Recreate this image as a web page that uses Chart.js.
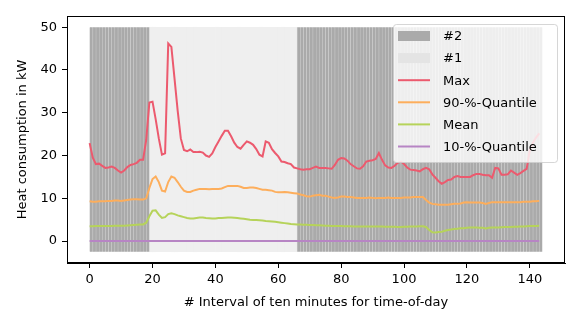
<!DOCTYPE html>
<html>
<head>
<meta charset="utf-8">
<script src="https://cdn.jsdelivr.net/npm/chart.js@4.4.1/dist/chart.umd.min.js"></script>
<style>
  html, body { margin: 0; padding: 0; background: #fff; }
  #wrap { width: 581px; height: 327px; }
</style>
</head>
<body>
<div id="wrap"><canvas id="chart"></canvas></div>
<script>
// Intervals 0..143, ten minutes each
const intervals = Array.from({ length: 144 }, (_, i) => i);

// Which cluster each interval belongs to
const cluster2Intervals = [...Array(19).keys()].concat(Array.from({ length: 78 }, (_, i) => 66 + i));
const cluster1Intervals = Array.from({ length: 47 }, (_, i) => 19 + i);
const bandBottom = -2.5;
const bandTop = 50;

const maxValues = [
  22.9, 19.5, 18.0, 18.1, 17.6, 17.1, 17.2, 17.4, 17.1, 16.5,
  16.0, 16.5, 17.3, 17.8, 18.0, 18.3, 19.0, 19.0, 23.7, 32.4,
  32.6, 28.5, 24.0, 20.2, 20.5, 46.2, 45.4, 38.0, 30.5, 24.0,
  21.3, 21.0, 21.4, 20.8, 20.8, 20.9, 20.7, 20.0, 19.7, 20.5,
  22.0, 23.3, 24.6, 25.8, 25.8, 24.5, 23.0, 22.0, 21.6, 22.5,
  23.3, 23.0, 22.5, 21.5, 20.2, 19.8, 23.3, 23.0, 21.5, 20.6,
  19.8, 18.6, 18.5, 18.2, 18.0, 17.2, 17.0, 16.8, 16.7, 16.8,
  16.8, 17.1, 17.4, 17.1, 17.1, 17.1, 17.0, 16.9, 17.8, 19.0,
  19.4, 19.3, 18.8, 18.0, 17.5, 17.0, 16.9, 17.5, 18.6, 18.8,
  18.9, 19.2, 20.6, 19.0, 17.7, 17.2, 17.1, 17.6, 18.3, 18.6,
  18.0, 17.2, 16.7, 16.6, 16.5, 16.3, 16.8, 17.1, 16.8, 15.6,
  14.8, 14.0, 13.4, 13.8, 14.3, 14.4, 15.0, 15.2, 15.0, 15.0,
  15.0, 15.0, 15.4, 15.7, 15.7, 15.5, 15.4, 15.4, 14.8, 17.1,
  17.0, 15.5, 15.5, 15.6, 16.5, 16.0, 15.5, 15.9, 16.4, 16.9,
  21.3, 23.0, 24.2, 25.2
];

const q90Values = [
  9.3, 9.2, 9.2, 9.3, 9.3, 9.3, 9.4, 9.4, 9.5, 9.5,
  9.4, 9.5, 9.6, 9.7, 9.8, 9.8, 9.7, 9.7, 10.0, 12.4,
  14.5, 15.1, 13.8, 11.8, 11.6, 13.8, 15.1, 14.8, 13.8, 12.7,
  11.8, 11.5, 11.5, 11.8, 12.0, 12.2, 12.2, 12.2, 12.1, 12.2,
  12.2, 12.2, 12.3, 12.6, 12.9, 12.9, 12.9, 12.9, 12.7, 12.4,
  12.4, 12.5, 12.5, 12.4, 12.2, 12.0, 12.0, 11.9, 11.8, 11.5,
  11.4, 11.4, 11.5, 11.4, 11.3, 11.2, 11.1, 10.9, 10.7, 10.5,
  10.4, 10.6, 10.7, 10.8, 10.6, 10.6, 10.4, 10.2, 10.1, 10.2,
  10.4, 10.4, 10.3, 10.3, 10.2, 10.1, 10.1, 10.1, 10.1, 10.2,
  10.1, 10.0, 10.1, 10.1, 10.1, 10.2, 10.1, 10.1, 10.1, 10.1,
  10.2, 10.2, 10.2, 10.3, 10.3, 10.3, 10.3, 9.6, 9.0, 8.7,
  8.6, 8.5, 8.5, 8.5, 8.5, 8.6, 8.7, 8.7, 8.8, 9.0,
  9.1, 9.0, 9.0, 9.0, 9.0, 8.9, 8.7, 8.9, 9.1, 9.1,
  9.1, 9.1, 9.1, 9.1, 9.1, 9.1, 9.1, 9.1, 9.2, 9.2,
  9.2, 9.3, 9.3, 9.4
];

const meanValues = [
  3.45, 3.45, 3.5, 3.5, 3.5, 3.5, 3.55, 3.55, 3.6, 3.6,
  3.6, 3.6, 3.65, 3.7, 3.75, 3.8, 3.85, 3.9, 4.3, 5.8,
  7.1, 7.2, 6.2, 5.4, 5.6, 6.3, 6.5, 6.3, 6.0, 5.8,
  5.6, 5.4, 5.3, 5.3, 5.4, 5.5, 5.5, 5.4, 5.35, 5.3,
  5.3, 5.4, 5.4, 5.45, 5.5, 5.5, 5.45, 5.4, 5.3, 5.2,
  5.1, 5.0, 4.95, 4.9, 4.85, 4.8, 4.7, 4.65, 4.6, 4.5,
  4.4, 4.3, 4.2, 4.1, 4.0, 3.95, 3.9, 3.85, 3.8, 3.8,
  3.75, 3.75, 3.7, 3.7, 3.65, 3.6, 3.6, 3.55, 3.5, 3.5,
  3.5, 3.45, 3.45, 3.45, 3.4, 3.4, 3.4, 3.4, 3.4, 3.4,
  3.4, 3.4, 3.4, 3.4, 3.35, 3.35, 3.35, 3.35, 3.3, 3.3,
  3.35, 3.35, 3.4, 3.4, 3.4, 3.45, 3.45, 3.3, 2.6, 2.05,
  2.0, 2.1, 2.2, 2.4, 2.6, 2.7, 2.8, 2.9, 3.0, 3.0,
  3.1, 3.2, 3.2, 3.2, 3.1, 3.1, 2.95, 3.1, 3.2, 3.2,
  3.2, 3.25, 3.3, 3.3, 3.3, 3.35, 3.35, 3.4, 3.4, 3.45,
  3.5, 3.5, 3.55, 3.6
];

const q10Values = new Array(144).fill(0);

const xTicks = [0, 20, 40, 60, 80, 100, 120, 140];
const yTicks = [0, 10, 20, 30, 40, 50];

const toPoints = vals => vals.map((v, i) => ({ x: intervals[i], y: v }));
const toBand = idx => idx.map(i => ({ x: i + 0.5, y: [bandBottom, bandTop] }));

const FONT = 'DejaVu Sans';
const legendOrder = [0, 1, 2, 3, 4, 5];

// frame round the plot area plus matplotlib-like legend box
const framePlugin = {
  id: 'frame',
  afterDatasetsDraw(chart) {
    const { ctx } = chart;
    ctx.save();
    const bx = 393, by = 24, bw = 164, bh = 138;
    ctx.beginPath();
    ctx.roundRect(bx + 0.5, by + 0.5, bw, bh, 3);
    ctx.fillStyle = 'rgba(255,255,255,0.8)';
    ctx.fill();
    ctx.strokeStyle = 'rgba(204,204,204,0.8)';
    ctx.lineWidth = 1;
    ctx.stroke();
    ctx.font = '13px "' + FONT + '"';
    ctx.textBaseline = 'middle';
    ctx.textAlign = 'left';
    legendOrder.forEach((di, k) => {
      const ds = chart.data.datasets[di];
      const y = 36 + k * 22.1;
      if (ds.type === 'bar') {
        ctx.fillStyle = ds.legendColor || ds.backgroundColor;
        ctx.fillRect(398, y - 5, 32, 10);
      } else {
        ctx.strokeStyle = ds.borderColor;
        ctx.lineWidth = 2;
        ctx.beginPath();
        ctx.moveTo(398, y);
        ctx.lineTo(430, y);
        ctx.stroke();
      }
      ctx.fillStyle = '#000';
      ctx.fillText(ds.label, 443, y + 1);
    });
    ctx.restore();
  },
  afterDraw(chart) {
    const { ctx, chartArea: a } = chart;
    ctx.save();
    ctx.strokeStyle = '#000';
    ctx.lineWidth = 1;
    ctx.strokeRect(Math.round(a.left) + 0.5, Math.round(a.top) + 0.5,
      Math.round(a.right - a.left) - 1, Math.round(a.bottom - a.top) - 1);
    ctx.restore();
  }
};

const lineDs = (label, vals, color, order) => ({
  type: 'line',
  label,
  data: toPoints(vals),
  borderColor: color,
  backgroundColor: color,
  borderWidth: 2,
  pointRadius: 0,
  tension: 0,
  order
});

new Chart(document.getElementById('chart'), {
  data: {
    datasets: [
      {
        type: 'bar', label: '#2', data: toBand(cluster2Intervals),
        backgroundColor: '#aaaaaa', borderColor: 'rgba(190,190,190,0.6)',
        borderWidth: { left: 0.6, right: 0, top: 0, bottom: 0 },
        borderSkipped: false, grouped: false,
        barPercentage: 1, categoryPercentage: 1, order: 10
      },
      {
        type: 'bar', label: '#1', data: toBand(cluster1Intervals),
        backgroundColor: '#efefef', legendColor: '#e4e4e4', borderWidth: 0,
        grouped: false, barPercentage: 1, categoryPercentage: 1, order: 10
      },
      lineDs('Max', maxValues, '#ec5a6e', 3),
      lineDs('90-%-Quantile', q90Values, '#fdae5c', 2),
      lineDs('Mean', meanValues, '#b6d35a', 1),
      lineDs('10-%-Quantile', q10Values, '#b785c4', 0)
    ]
  },
  options: {
    responsive: true,
    maintainAspectRatio: false,
    animation: false,
    layout: { padding: { left: 0, top: 16, right: 16, bottom: 0 } },
    plugins: {
      legend: { display: false },
      tooltip: { enabled: false }
    },
    scales: {
      x: {
        type: 'linear',
        min: -7.2,
        max: 151.2,
        offset: false,
        afterFit: s => { s.height = 64; },
        afterBuildTicks: s => { s.ticks = xTicks.map(v => ({ value: v })); },
        grid: { offset: false, drawOnChartArea: false, drawTicks: true, tickLength: 5, color: '#000' },
        border: { display: true, color: '#000', width: 1 },
        ticks: { color: '#000', padding: 4, maxRotation: 0, font: { family: FONT, size: 13 } },
        title: {
          display: true,
          text: '# Interval of ten minutes for time-of-day',
          color: '#000',
          font: { family: FONT, size: 13 },
          padding: { top: 0, bottom: 17 }
        }
      },
      y: {
        type: 'linear',
        min: -5.125,
        max: 52.625,
        afterFit: s => { s.width = 67; },
        afterBuildTicks: s => { s.ticks = yTicks.map(v => ({ value: v })); },
        grid: { offset: false, drawOnChartArea: false, drawTicks: true, tickLength: 5, color: '#000' },
        border: { display: true, color: '#000', width: 1 },
        ticks: { color: '#000', padding: 5, font: { family: FONT, size: 13 } },
        title: {
          display: true,
          text: 'Heat consumption in kW',
          color: '#000',
          font: { family: FONT, size: 13 },
          padding: { top: 15, bottom: 0 }
        }
      }
    }
  },
  plugins: [framePlugin]
});
</script>
</body>
</html>
